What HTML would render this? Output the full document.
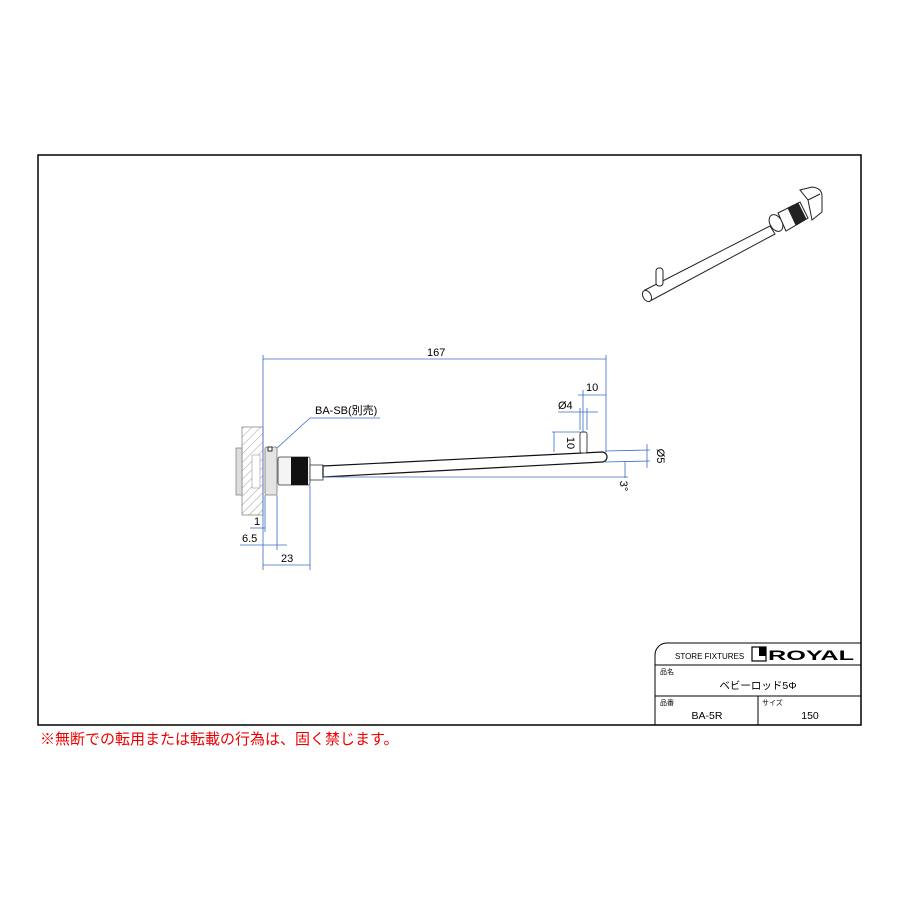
<!DOCTYPE html>
<html><head><meta charset="utf-8"><style>body{margin:0;background:#fff}svg{display:block}text{font-family:"Liberation Sans","Noto Sans CJK JP",sans-serif}</style></head><body>
<svg width="900" height="900" viewBox="0 0 900 900" xmlns="http://www.w3.org/2000/svg">
<defs><pattern id="h" width="6" height="6" patternUnits="userSpaceOnUse" patternTransform="rotate(45)"><line x1="0" y1="0" x2="0" y2="6" stroke="#777" stroke-width="0.7"/></pattern></defs>
<rect x="38" y="155" width="823" height="570" fill="none" stroke="#000" stroke-width="1.5"/>
<!-- wall -->
<rect x="242" y="427" width="21" height="88" fill="url(#h)" stroke="#888" stroke-width="0.8"/>
<rect x="236" y="448" width="6" height="47" fill="#ddd" stroke="#888" stroke-width="0.8"/>
<rect x="252" y="455" width="8" height="33" fill="#fff" stroke="#999" stroke-width="0.6"/>
<rect x="265" y="447" width="12" height="48" rx="2" fill="#e4e4e4" stroke="#777" stroke-width="0.8"/>
<rect x="268" y="447" width="4" height="4" fill="#fff" stroke="#000" stroke-width="0.8"/>
<!-- knob -->
<rect x="278" y="457" width="32" height="28" rx="2" fill="#f4f4f4" stroke="#333" stroke-width="0.8"/>
<rect x="291" y="457" width="17" height="28" fill="#111"/>
<rect x="310" y="465" width="13" height="15" fill="#fff" stroke="#333" stroke-width="0.8"/>
<!-- rod -->
<path d="M323 466 L602 452 A5 5 0 0 1 602 462 L323 477 Z" fill="#fff" stroke="#111" stroke-width="1.2"/>
<rect x="580" y="432" width="7" height="21" rx="2" fill="#fff" stroke="#333" stroke-width="0.9"/>
<!-- dims -->
<g stroke="#3a6bc8" stroke-width="0.8" fill="none">
<line x1="263" y1="355" x2="263" y2="570"/><line x1="606" y1="355" x2="606" y2="452"/>
<line x1="263" y1="359" x2="606" y2="359"/>
<line x1="583" y1="390" x2="583" y2="432"/><line x1="578" y1="395" x2="606" y2="395"/>
<line x1="558" y1="412" x2="598" y2="412"/><line x1="580" y1="408" x2="580" y2="430"/><line x1="587" y1="408" x2="587" y2="430"/>
<line x1="554" y1="432" x2="554" y2="452"/><line x1="552" y1="432" x2="580" y2="432"/>
<line x1="605" y1="451" x2="650" y2="450"/><line x1="605" y1="462" x2="650" y2="461"/><line x1="647" y1="444" x2="647" y2="468"/>
<line x1="625" y1="462" x2="625" y2="478"/><line x1="323" y1="477" x2="628" y2="477"/>
<line x1="265" y1="495" x2="265" y2="532"/><line x1="277" y1="495" x2="277" y2="550"/><line x1="310" y1="485" x2="310" y2="570"/>
<line x1="250" y1="528" x2="265" y2="528"/><line x1="240" y1="545" x2="287" y2="545"/><line x1="263" y1="565" x2="310" y2="565"/>
<polyline points="277,448 310,418 380,418"/>
</g>
<g font-size="11" fill="#000">
<text x="427" y="356">167</text>
<text x="586" y="391">10</text>
<text x="558" y="409">Ø4</text>
<text x="567" y="443" transform="rotate(90 567 443)" text-anchor="middle">10</text>
<text x="657" y="456" transform="rotate(90 657 456)" text-anchor="middle">Ø5</text>
<text x="620" y="486" transform="rotate(90 620 486)" text-anchor="middle">3°</text>
<text x="254" y="525">1</text>
<text x="242" y="542">6.5</text>
<text x="281" y="562">23</text>
<text x="315" y="414">BA-SB(別売)</text>
</g>
<!-- iso -->
<g stroke="#222" stroke-width="1" fill="#fff">
<path d="M800 190 L812 187 Q822 188 822 196 L822 212 L812 220 L808 200 Z"/>
<line x1="808" y1="200" x2="820" y2="194"/>
<path d="M645 290 L770 226 L775 234 L650 301 Z"/>
<ellipse cx="647" cy="296" rx="4" ry="6" transform="rotate(-30 647 296)"/>
<rect x="656" y="268" width="7" height="18" rx="3"/>
<ellipse cx="776" cy="223" rx="6" ry="9" transform="rotate(-30 776 223)"/>
<path d="M778 213 L800 202 L808 218 L786 231 Z"/>
<path d="M788 208 L798 203 L806 219 L796 225 Z" fill="#222"/>
</g>
<!-- title block -->
<g stroke="#000" fill="none" stroke-width="1">
<path d="M655 725 V655 A12 12 0 0 1 667 643 H861"/>
<line x1="655" y1="665" x2="861" y2="665"/><line x1="655" y1="696" x2="861" y2="696"/><line x1="758" y1="696" x2="758" y2="725"/>
<rect x="752" y="647" width="14" height="14" stroke-width="1.2"/>
</g>
<rect x="759" y="647" width="7" height="9" fill="#000"/>
<g fill="#000">
<text x="675" y="659" font-size="8" font-family="Liberation Sans Narrow,Liberation Sans,sans-serif">STORE FIXTURES</text>
<text x="768" y="660" font-size="14" font-weight="bold" textLength="86" lengthAdjust="spacingAndGlyphs">ROYAL</text>
<text x="660" y="674" font-size="7">品名</text>
<text x="758" y="689" font-size="10.5" text-anchor="middle">ベビーロッド5Φ</text>
<text x="660" y="705" font-size="7">品番</text>
<text x="762" y="705" font-size="7">サイズ</text>
<text x="707" y="719" font-size="10.5" text-anchor="middle">BA-5R</text>
<text x="810" y="719" font-size="10.5" text-anchor="middle">150</text>
</g>
<text x="40" y="744" font-size="15" fill="#e00">※無断での転用または転載の行為は、固く禁じます。</text>
</svg>
</body></html>
